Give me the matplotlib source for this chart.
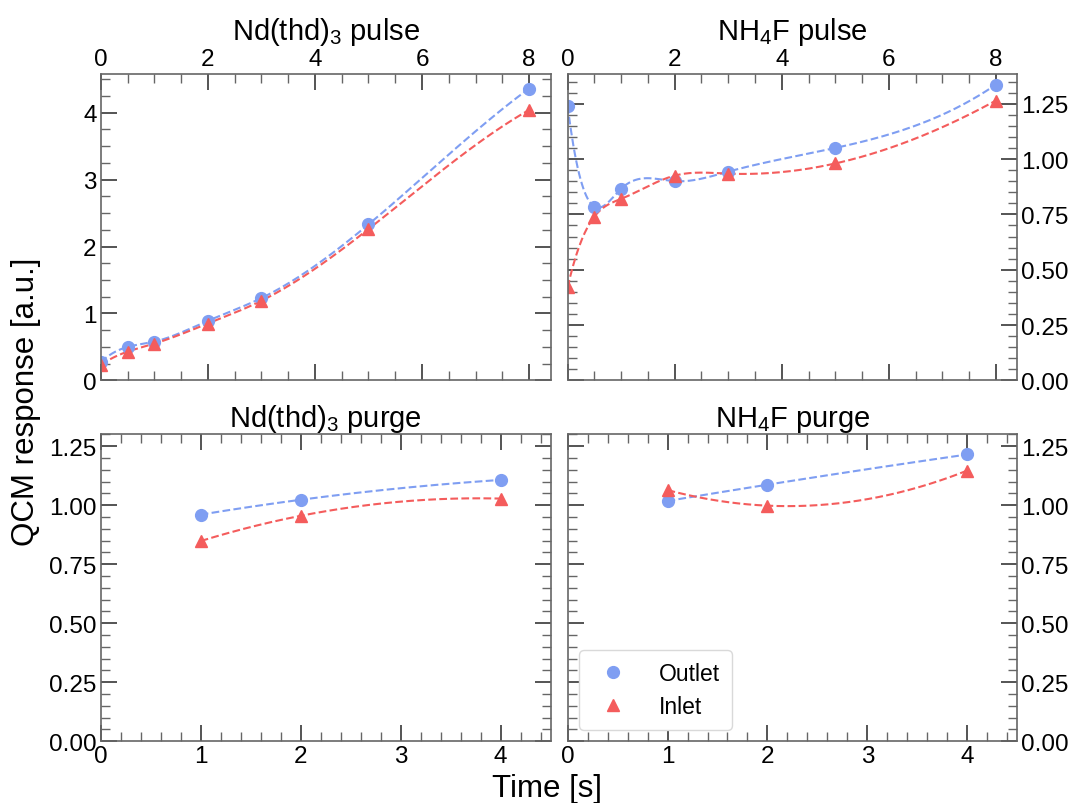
import numpy as np
import matplotlib
matplotlib.use("Agg")
import matplotlib.pyplot as plt
from matplotlib.ticker import MultipleLocator

plt.rcParams['font.family'] = ['Liberation Sans', 'DejaVu Sans']
plt.rcParams['mathtext.default'] = 'regular'

# QCM response vs time for each step of the ALD cycle
pulse_time = [0, 0.5, 1, 2, 3, 5, 8]
purge_time = [1, 2, 4]

nd_pulse_outlet = [0.27, 0.50, 0.58, 0.89, 1.23, 2.33, 4.36]
nd_pulse_inlet = [0.23, 0.43, 0.55, 0.85, 1.19, 2.26, 4.04]

nh4f_pulse_outlet = [1.24, 0.785, 0.866, 0.90, 0.943, 1.05, 1.336]
nh4f_pulse_inlet = [0.42, 0.74, 0.82, 0.925, 0.934, 0.98, 1.264]

nd_purge_outlet = [0.96, 1.023, 1.107]
nd_purge_inlet = [0.848, 0.955, 1.028]

nh4f_purge_outlet = [1.018, 1.087, 1.215]
nh4f_purge_inlet = [1.064, 0.998, 1.147]

titles = ['Nd(thd)$_3$ pulse', 'NH$_4$F pulse', 'Nd(thd)$_3$ purge', 'NH$_4$F purge']

OUTLET_COLOR = '#7f9ef2'
INLET_COLOR = '#f45c5c'


def smooth_curve(x, y, num=300):
    """Cubic spline (not-a-knot) through the points; parabola for 3 points."""
    x = np.asarray(x, float)
    y = np.asarray(y, float)
    xs = np.linspace(x[0], x[-1], num)
    n = len(x)
    if n == 3:
        return xs, np.polyval(np.polyfit(x, y, 2), xs)
    h = np.diff(x)
    A = np.zeros((n, n))
    b = np.zeros(n)
    A[0, 0], A[0, 1], A[0, 2] = h[1], -(h[0] + h[1]), h[0]
    A[-1, -3], A[-1, -2], A[-1, -1] = h[-1], -(h[-2] + h[-1]), h[-2]
    for i in range(1, n - 1):
        A[i, i - 1] = h[i - 1]
        A[i, i] = 2 * (h[i - 1] + h[i])
        A[i, i + 1] = h[i]
        b[i] = 6 * ((y[i + 1] - y[i]) / h[i] - (y[i] - y[i - 1]) / h[i - 1])
    M = np.linalg.solve(A, b)
    idx = np.clip(np.searchsorted(x, xs) - 1, 0, n - 2)
    x0, x1 = x[idx], x[idx + 1]
    hh = x1 - x0
    ys = (M[idx] * (x1 - xs) ** 3 / (6 * hh) + M[idx + 1] * (xs - x0) ** 3 / (6 * hh)
          + (y[idx] / hh - M[idx] * hh / 6) * (x1 - xs)
          + (y[idx + 1] / hh - M[idx + 1] * hh / 6) * (xs - x0))
    return xs, ys


def draw_panel(ax, t, outlet, inlet):
    xs, ys = smooth_curve(t, outlet)
    ax.plot(xs, ys, '--', color=OUTLET_COLOR, lw=1.5)
    xs, ys = smooth_curve(t, inlet)
    ax.plot(xs, ys, '--', color=INLET_COLOR, lw=1.5)
    ax.plot(t, outlet, 'o', color=OUTLET_COLOR, ms=8.5, label='Outlet')
    ax.plot(t, inlet, '^', color=INLET_COLOR, ms=8.5, label='Inlet')


fig, axes = plt.subplots(2, 2, figsize=(10.72, 8.04), dpi=100)
fig.subplots_adjust(left=0.094, right=0.949, top=0.907, bottom=0.077,
                    wspace=0.038, hspace=0.176)

(ax1, ax2), (ax3, ax4) = axes
draw_panel(ax1, pulse_time, nd_pulse_outlet, nd_pulse_inlet)
draw_panel(ax2, pulse_time, nh4f_pulse_outlet, nh4f_pulse_inlet)
draw_panel(ax3, purge_time, nd_purge_outlet, nd_purge_inlet)
draw_panel(ax4, purge_time, nh4f_purge_outlet, nh4f_purge_inlet)

for ax, title in zip(axes.flat, titles):
    ax.set_title(title, fontsize=21, pad=6)
    for sp in ax.spines.values():
        sp.set_color('0.4')
        sp.set_linewidth(1.2)
    ax.tick_params(which='both', direction='in', top=True, bottom=True,
                   left=True, right=True, labelsize=17.5, colors='0.15',
                   labelcolor='black')
    ax.tick_params(which='major', length=11.5, width=1.1, pad=3)
    ax.tick_params(which='minor', length=6.5, width=1.0, colors='0.4')

# top row: time axis on top, 0-8 s
for ax in (ax1, ax2):
    ax.set_xlim(0, 8.4)
    ax.xaxis.set_major_locator(MultipleLocator(2))
    ax.xaxis.set_minor_locator(MultipleLocator(0.5))
    ax.tick_params(labeltop=True, labelbottom=False)

ax1.set_ylim(0, 4.58)
ax1.yaxis.set_major_locator(MultipleLocator(1))
ax1.yaxis.set_minor_locator(MultipleLocator(0.25))

ax2.set_ylim(0, 1.385)
ax2.yaxis.set_major_locator(MultipleLocator(0.25))
ax2.yaxis.set_minor_locator(MultipleLocator(0.05))
ax2.yaxis.set_major_formatter('{x:.2f}')
ax2.tick_params(labelleft=False, labelright=True)

# bottom row: purge times 1-4 s
for ax in (ax3, ax4):
    ax.set_xlim(0, 4.5)
    ax.set_ylim(0, 1.3)
    ax.xaxis.set_major_locator(MultipleLocator(1))
    ax.xaxis.set_minor_locator(MultipleLocator(0.2))
    ax.yaxis.set_major_locator(MultipleLocator(0.25))
    ax.yaxis.set_minor_locator(MultipleLocator(0.05))
    ax.yaxis.set_major_formatter('{x:.2f}')
ax4.tick_params(labelleft=False, labelright=True)

leg = ax4.legend(loc='lower left', fontsize=16.5, handlelength=2.0,
                 handletextpad=1.0, borderpad=0.5, labelspacing=0.45,
                 framealpha=1, fancybox=True)
leg.get_frame().set_edgecolor('0.85')

fig.text(0.51, 0.0, 'Time [s]', ha='center', va='bottom', fontsize=22.5)
fig.text(0.01, 0.5, 'QCM response [a.u.]', ha='left', va='center',
         rotation=90, fontsize=22.5)

fig.savefig('out.png', dpi=100)
